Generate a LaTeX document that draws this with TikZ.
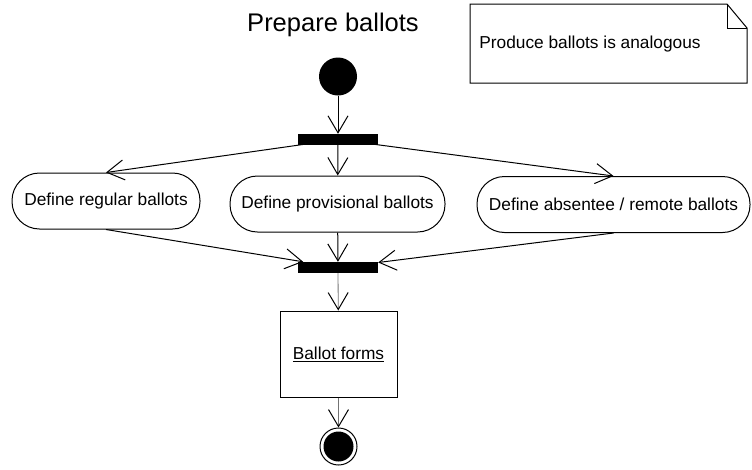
\documentclass[tikz,border=0pt]{standalone}
\usepackage{fontspec}
\setmainfont{Liberation Sans}
\usetikzlibrary{arrows.meta}
\begin{document}
\begin{tikzpicture}[x=1pt,y=-1pt,
  font=\fontsize{17.3}{20}\selectfont,
  action/.style={draw,line width=1pt,rectangle,rounded corners=27.5pt,minimum height=56pt,inner sep=0pt},
  syncbar/.style={fill=black,minimum width=80pt,minimum height=11pt,inner sep=0pt},
  flow/.style={line width=1pt,-{Straight Barb[length=17pt,width=20pt,line width=1pt]}},
  objflow/.style={line width=0.8pt,draw=black!55,-{Straight Barb[length=17pt,width=20pt,line width=1pt,color=black]}},
  initnode/.style={circle,fill=black,minimum size=38pt,inner sep=0pt},
  finalnode/.style={circle,draw,line width=1pt,minimum size=37pt,inner sep=0pt},
  objbox/.style={draw,line width=1pt,minimum width=117pt,minimum height=86pt,inner sep=0pt},
  notebox/.style={draw,line width=1pt,line join=miter}]
\useasboundingbox (0,0) rectangle (752,469);

\node[font=\fontsize{25.5}{28}\selectfont] (title) at (333,25) {Prepare ballots};

% note
\draw[notebox] (470,4) -- (727,4) -- (747,28) -- (747,83) -- (470,83) -- cycle;
\draw[notebox] (727,4) -- (727,28) -- (747,28);
\node (note) at (590,44) {Produce ballots is analogous};

\node[initnode] (start) at (338,76.5) {};
\node[syncbar] (fork) at (338,139.5) {};

\node[action,minimum width=188pt] (reg) at (106,201) {Define regular ballots};
\node[action,minimum width=215pt] (prov) at (337.5,204) {Define provisional ballots};
\node[action,minimum width=273pt] (abs) at (613.5,204.5) {Define absentee / remote ballots};

\node[syncbar] (join) at (338,267.5) {};

\node[objbox] (forms) at (338.5,354) {\underline{Ballot forms}};

\node[finalnode] (finish) at (338.5,446.5) {};
\fill (finish.center) circle (15pt);

\draw[flow] (start) -- (fork);
\draw[flow] (fork.center) -- (reg.north);
\draw[flow] (fork) -- (prov);
\draw[flow] (fork.center) -- (abs.north);
\draw[flow] (reg.south) -- (join);
\draw[flow] (prov) -- (join);
\draw[flow] (abs.south) -- (join);
\draw[objflow] (join) -- (forms);
\draw[objflow] (forms) -- (finish);
\end{tikzpicture}
\end{document}
